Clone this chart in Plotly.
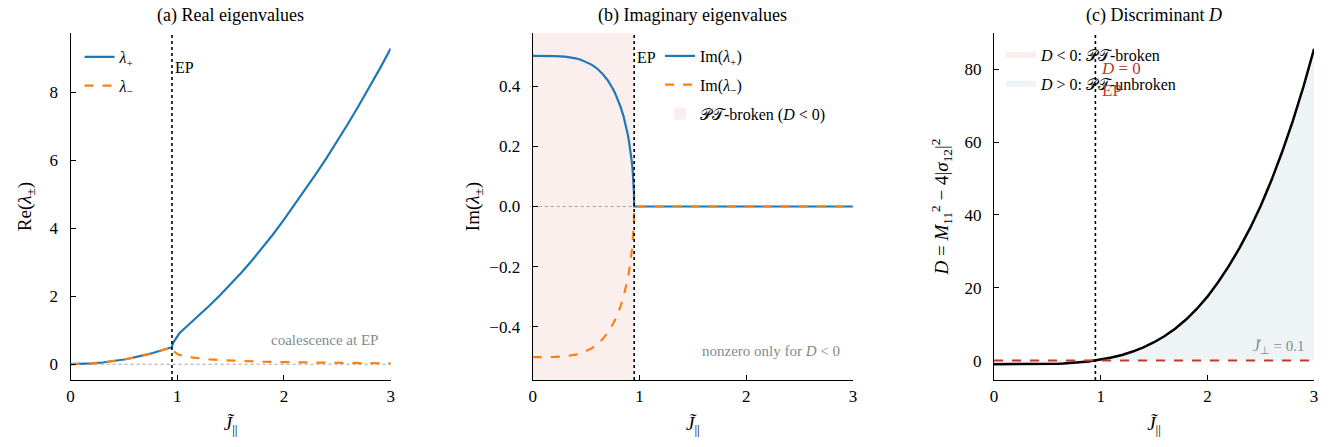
import plotly.graph_objects as go

# ---------------- data ----------------
EP = 0.95
J_lo = [0.0, 0.1, 0.2, 0.3, 0.35, 0.4, 0.45, 0.5, 0.55, 0.6, 0.65, 0.7, 0.72, 0.75, 0.77, 0.8, 0.82,
        0.85, 0.86, 0.87, 0.88, 0.89, 0.9, 0.91, 0.92, 0.93, 0.935, 0.94, 0.945, 0.948, 0.95]
re_lo = [0.0, 0.0055, 0.022, 0.050, 0.068, 0.089, 0.112, 0.139, 0.168, 0.199, 0.234, 0.271, 0.287, 0.312,
         0.329, 0.355, 0.373, 0.400, 0.410, 0.419, 0.429, 0.439, 0.449, 0.459, 0.469, 0.479, 0.484, 0.490,
         0.495, 0.498, 0.5]
im_lo = [0.5, 0.500, 0.4995, 0.4975, 0.4954, 0.492, 0.4872, 0.480, 0.4711, 0.459, 0.4418, 0.420, 0.4093,
         0.391, 0.377, 0.352, 0.3334, 0.300, 0.2865, 0.2724, 0.257, 0.2395, 0.220, 0.1987, 0.173, 0.143,
         0.1243, 0.0995, 0.0707, 0.0458, 0.0]
d_lo = [-1.0, -1.0, -0.998, -0.990, -0.982, -0.968, -0.950, -0.923, -0.888, -0.842, -0.781, -0.706, -0.670,
        -0.611, -0.568, -0.496, -0.445, -0.36, -0.328, -0.297, -0.264, -0.229, -0.194, -0.158, -0.12,
        -0.082, -0.062, -0.04, -0.02, -0.008, 0.0]

J_hi = [0.95, 0.951, 0.953, 0.955, 0.96, 0.97, 0.98, 0.99, 1.0, 1.02, 1.05, 1.1, 1.15, 1.2, 1.3, 1.4, 1.5,
        1.6, 1.7, 1.8, 1.9, 2.0, 2.1, 2.2, 2.3, 2.4, 2.5, 2.6, 2.7, 2.8, 2.9, 3.0]
lam_plus_hi = [0.5, 0.534, 0.561, 0.58, 0.62, 0.67, 0.72, 0.78, 0.84, 0.91, 1.0, 1.14, 1.28, 1.42, 1.72,
               2.03, 2.35, 2.69, 3.05, 3.43, 3.83, 4.25, 4.69, 5.14, 5.60, 6.07, 6.56, 7.07, 7.60, 8.14,
               8.70, 9.28]
lam_minus_hi = [0.5, 0.468, 0.446, 0.431, 0.403, 0.373, 0.347, 0.32, 0.298, 0.275, 0.25, 0.219, 0.195, 0.176,
                0.145, 0.123, 0.106, 0.093, 0.082, 0.073, 0.065, 0.059, 0.053, 0.049, 0.045, 0.041, 0.038,
                0.035, 0.033, 0.031, 0.029, 0.027]
im_hi = [0.0, 0.0, 0.0, 0.0, 0.0, 0.0, 0.0, 0.0, 0.0, 0.0, 0.0, 0.0, 0.0, 0.0, 0.0, 0.0, 0.0,
         0.0, 0.0, 0.0, 0.0, 0.0, 0.0, 0.0, 0.0, 0.0, 0.0, 0.0, 0.0, 0.0, 0.0, 0.0]
d_hi = [0.0, 0.0044, 0.0132, 0.022, 0.047, 0.088, 0.139, 0.21, 0.294, 0.403, 0.5625, 0.848, 1.177, 1.548,
        2.48, 3.64, 5.04, 6.74, 8.81, 11.27, 14.18, 17.56, 21.50, 25.92, 30.86, 36.35, 42.54, 49.49, 57.26,
        65.76, 75.19, 85.62]
J_perp = 0.1

x_ticks = [0, 1, 2, 3]
ya_ticks = [0, 2, 4, 6, 8]
yb_ticks = [-0.4, -0.2, 0.0, 0.2, 0.4]
yc_ticks = [0, 20, 40, 60, 80]

# ---------------- styles ----------------
FONT = "Liberation Serif"
BLUE = "#1f77b4"
ORANGE = "#ff7f0e"
RED = "#c0392b"
GREY = "#7f8c8d"
PINK = "rgba(214,80,70,0.09)"
LBLUE = "rgba(70,120,160,0.09)"

J_all = J_lo + J_hi[1:]
lam_plus = re_lo + lam_plus_hi[1:]
lam_minus = re_lo + lam_minus_hi[1:]
im_plus = im_lo + im_hi[1:]
im_minus = [-v for v in im_lo] + im_hi[1:]
d_all = d_lo + d_hi[1:]

fig = go.Figure()

# (a)
fig.add_trace(go.Scatter(x=J_all, y=lam_plus, mode="lines", line=dict(color=BLUE, width=2.2),
                         name="<i>λ</i><sub>+</sub>", legendgroup="a1", xaxis="x", yaxis="y", legend="legend"))
fig.add_trace(go.Scatter(x=J_all, y=lam_minus, mode="lines", line=dict(color=ORANGE, width=2.2, dash="dash"),
                         name="<i>λ</i><sub>−</sub>", legendgroup="a2", xaxis="x", yaxis="y", legend="legend"))
# (b)
fig.add_trace(go.Scatter(x=J_all, y=im_plus, mode="lines", line=dict(color=BLUE, width=2.2),
                         name="Im(<i>λ</i><sub>+</sub>)", legendgroup="b1", xaxis="x2", yaxis="y2",
                         legend="legend2", legendrank=1))
fig.add_trace(go.Scatter(x=J_all, y=im_minus, mode="lines", line=dict(color=ORANGE, width=2.2, dash="dash"),
                         name="Im(<i>λ</i><sub>−</sub>)", legendgroup="b2", xaxis="x2", yaxis="y2",
                         legend="legend2", legendrank=2))
# (c) fills
fig.add_trace(go.Scatter(x=J_lo, y=[0.0] * len(J_lo), mode="lines", line=dict(width=0), showlegend=False,
                         hoverinfo="skip", xaxis="x3", yaxis="y3"))
fig.add_trace(go.Scatter(x=J_lo, y=d_lo, mode="none", fill="tonexty", fillcolor=PINK, legendgroup="c1",
                         legendrank=1, name="<i>D</i> < 0: 𝒫𝒯-broken", xaxis="x3", yaxis="y3",
                         legend="legend3"))
fig.add_trace(go.Scatter(x=J_hi, y=[0.0] * len(J_hi), mode="lines", line=dict(width=0), showlegend=False,
                         hoverinfo="skip", xaxis="x3", yaxis="y3"))
fig.add_trace(go.Scatter(x=J_hi, y=d_hi, mode="none", fill="tonexty", fillcolor=LBLUE, legendgroup="c2",
                         legendrank=2, name="<i>D</i> > 0: 𝒫𝒯-unbroken", xaxis="x3", yaxis="y3",
                         legend="legend3"))
fig.add_trace(go.Scatter(x=J_all, y=d_all, mode="lines", line=dict(color="black", width=2.5),
                         showlegend=False, xaxis="x3", yaxis="y3"))

# shapes
shapes = []
shapes.append(dict(type="rect", xref="x2", yref="y2 domain", x0=0, x1=EP, y0=0, y1=1,
                   fillcolor=PINK, line=dict(width=0), layer="below", legendgroup="b3",
                   showlegend=True, legend="legend2", legendrank=3, name="𝒫𝒯-broken (<i>D</i> < 0)"))
for xr, yr in (("x", "y"), ("x2", "y2"), ("x3", "y3")):
    shapes.append(dict(type="line", xref=xr, yref=yr + " domain", x0=EP, x1=EP, y0=0, y1=1,
                       line=dict(color="black", width=1.6, dash="dot")))
for xr, yr in (("x", "y"), ("x2", "y2")):
    shapes.append(dict(type="line", xref=xr + " domain", yref=yr, x0=0, x1=1, y0=0, y1=0,
                       line=dict(color="#999999", width=0.9, dash="dot"), layer="below"))
shapes.append(dict(type="line", xref="x3 domain", yref="y3", x0=0, x1=1, y0=0, y1=0,
                   line=dict(color=RED, width=2, dash="dash")))

dom_y = [1 - 380 / 447, 1 - 33 / 447]
doms_x = [[67 / 1335, 389 / 1335], [532 / 1335, 854 / 1335], [996 / 1335, 1318 / 1335]]

axis_common = dict(showline=True, linecolor="black", linewidth=1.4, ticks="inside", ticklen=5,
                   tickwidth=1.2, tickcolor="black", showgrid=False, zeroline=False,
                   tickfont=dict(family=FONT, size=17, color="black"))
xtitle = dict(text="<i>J̃</i><sub>||</sub>", font=dict(family=FONT, size=19, color="black"), standoff=12)

layout = dict(
    width=1335, height=447, margin=dict(l=0, r=0, t=0, b=0),
    plot_bgcolor="white", paper_bgcolor="white",
    font=dict(family=FONT, color="black"),
    shapes=shapes,
)
for i, (xd, yt, yr, ytitle, yfmt, sto) in enumerate([
        (doms_x[0], ya_ticks, [-0.464, 9.74], "Re(<i>λ</i><sub>±</sub>)", None, 12),
        (doms_x[1], yb_ticks, [-0.576, 0.576], "Im(<i>λ</i><sub>±</sub>)", ".1f", 4),
        (doms_x[2], yc_ticks, [-5.33, 89.95],
         "<i>D</i> = <i>M</i><sub>11</sub><sup>2</sup> − 4|<i>σ</i><sub>12</sub>|<sup>2</sup>", None, 10)]):
    s = "" if i == 0 else str(i + 1)
    layout["xaxis" + s] = dict(axis_common, domain=xd, range=[0, 3], tickvals=x_ticks,
                               anchor="y" + s, title=xtitle)
    ya = dict(axis_common, domain=dom_y, range=yr, tickvals=yt, anchor="x" + s, ticklabelstandoff=8,
              title=dict(text=ytitle, font=dict(family=FONT, size=19, color="black"), standoff=sto))
    if yfmt:
        ya["tickformat"] = yfmt
    layout["yaxis" + s] = ya

leg_common = dict(bgcolor="rgba(0,0,0,0)", borderwidth=0, xanchor="left", yanchor="top",
                  font=dict(family=FONT, size=16, color="black"), tracegroupgap=5, traceorder="grouped")
layout["legend"] = dict(leg_common, x=76 / 1335, y=1 - 40 / 447)
layout["legend2"] = dict(leg_common, x=660 / 1335, y=1 - 39 / 447)
layout["legend3"] = dict(leg_common, x=1003 / 1335, y=1 - 38 / 447)

ann = []
titles = ["(a) Real eigenvalues", "(b) Imaginary eigenvalues", "(c) Discriminant <i>D</i>"]
for t, xd in zip(titles, doms_x):
    ann.append(dict(text=t, x=(xd[0] + xd[1]) / 2, y=1 - 16 / 447, xref="paper", yref="paper",
                    showarrow=False, xanchor="center", yanchor="middle",
                    font=dict(family=FONT, size=18, color="black")))
ann.append(dict(text="EP", x=EP, xref="x", y=0.90, yref="y domain", xanchor="left", yanchor="middle",
                xshift=1, showarrow=False, font=dict(family=FONT, size=16, color="black")))
ann.append(dict(text="EP", x=EP, xref="x2", y=0.93, yref="y2 domain", xanchor="left", yanchor="middle",
                xshift=1, showarrow=False, font=dict(family=FONT, size=16, color="black")))
ann.append(dict(text="<i>D</i> = 0<br>EP", x=EP, xref="x3", y=0.93, yref="y3 domain", xanchor="left",
                yanchor="top", xshift=4, align="left", showarrow=False,
                font=dict(family=FONT, size=17, color=RED)))
ann.append(dict(text="coalescence at EP", x=0.966, xref="x domain", y=0.115, yref="y domain",
                xanchor="right", yanchor="middle", showarrow=False,
                font=dict(family=FONT, size=15, color=GREY)))
ann.append(dict(text="nonzero only for <i>D</i> < 0", x=0.966, xref="x2 domain", y=0.084, yref="y2 domain",
                xanchor="right", yanchor="middle", showarrow=False,
                font=dict(family=FONT, size=15, color=GREY)))
ann.append(dict(text="<i>J̃</i><sub>⊥</sub> = " + str(J_perp), x=0.975, xref="x3 domain", y=0.095,
                yref="y3 domain", xanchor="right", yanchor="middle", showarrow=False,
                font=dict(family=FONT, size=15, color=GREY)))
layout["annotations"] = ann

fig.update_layout(**layout)
fig.write_html("out.html")
